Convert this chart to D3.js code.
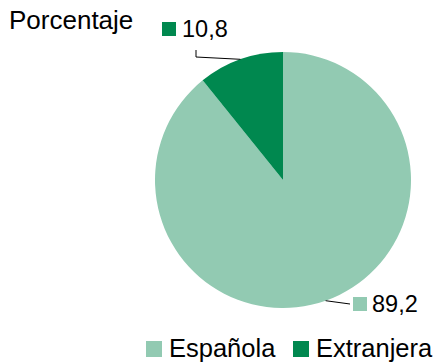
<!DOCTYPE html>
<html><head><meta charset="utf-8">
<script src="https://cdn.jsdelivr.net/npm/d3@7"></script>
<style>body{margin:0;background:#fff}svg{display:block}text{font-family:"Liberation Sans",Arial,sans-serif;fill:#000}</style>
</head><body>
<svg id="c" width="437" height="363"></svg>
<script>
const categories = ["Española", "Extranjera"];
const values = [89.2, 10.8];
const valueLabels = ["89,2", "10,8"];
const colors = ["#92CAB2", "#00884F"];
const title = "Porcentaje";

const svg = d3.select("#c");
const cx = 283, cy = 180, R = 128;
const color = d3.scaleOrdinal().domain(categories).range(colors);
const data = categories.map((c, i) => ({cat: c, v: values[i], lab: valueLabels[i]}));
const pie = d3.pie().value(d => d.v).sort(null);
const arcs = pie(data);
const arc = d3.arc().innerRadius(0).outerRadius(R);
const g = svg.append("g").attr("transform", `translate(${cx},${cy})`);
g.selectAll("path").data(arcs).join("path")
  .attr("d", arc).attr("fill", d => color(d.data.cat));

const fs = 25.5, fsNum = 23.5;
svg.append("text").attr("x", 9).attr("y", 29).attr("font-size", 26).text(title);

// data labels
function edge(d){ const a = (d.startAngle + d.endAngle)/2; return [cx + R*Math.sin(a), cy - R*Math.cos(a)]; }
const labPos = {"Extranjera": {sq:[162,22], tx:[182,37], line: p => [[196,50],[196,57],p]},
                "Española": {sq:[353,297], tx:[372,312], line: p => [p,[350,304]]}};
arcs.forEach(d => {
  const L = labPos[d.data.cat];
  const p = edge(d);
  svg.append("path").attr("d", d3.line()(L.line(p))).attr("fill","none").attr("stroke","#000").attr("stroke-width",1);
  svg.append("rect").attr("x", L.sq[0]).attr("y", L.sq[1]).attr("width", 14).attr("height", 14).attr("fill", color(d.data.cat));
  svg.append("text").attr("x", L.tx[0]).attr("y", L.tx[1]).attr("font-size", fsNum).text(d.data.lab);
});

// legend
const legX = [146, 293];
categories.forEach((c, i) => {
  svg.append("rect").attr("x", legX[i]).attr("y", 341).attr("width", 16).attr("height", 16).attr("fill", color(c));
  svg.append("text").attr("x", legX[i] + 23).attr("y", 357).attr("font-size", fs).text(c);
});
</script>
</body></html>
